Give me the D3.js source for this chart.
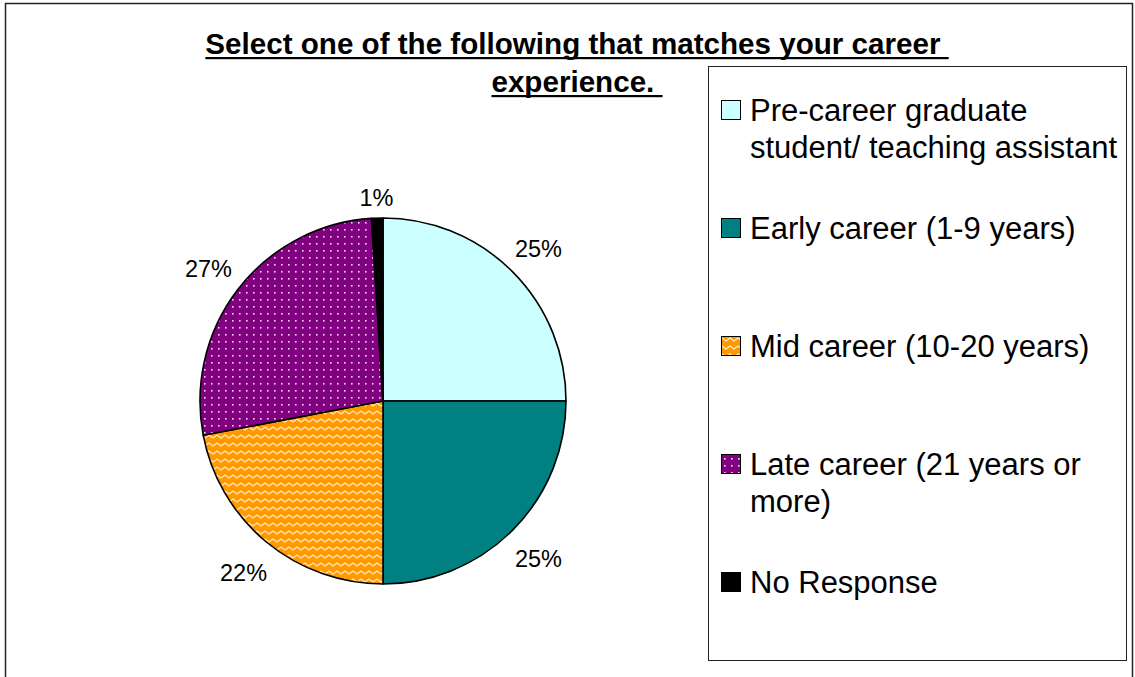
<!DOCTYPE html>
<html>
<head>
<meta charset="utf-8">
<script src="https://cdn.jsdelivr.net/npm/d3@7"></script>
<style>
  html, body { margin: 0; padding: 0; background: #fff; }
  svg { display: block; font-family: "Liberation Sans", Arial, sans-serif; }
</style>
</head>
<body>
<svg id="chart" width="1135" height="677"></svg>
<script>
// Survey answers: career stage of respondents
const categories = [
  "Pre-career graduate student/ teaching assistant",
  "Early career (1-9 years)",
  "Mid career (10-20 years)",
  "Late career (21 years or more)",
  "No Response"
];
const percents = [25, 25, 22, 27, 1];
const legendLines = [
  ["Pre-career graduate", "student/ teaching assistant"],
  ["Early career (1-9 years)"],
  ["Mid career (10-20 years)"],
  ["Late career (21 years or", "more)"],
  ["No Response"]
];
const titleLines = ["Select one of the following that matches your career ", "experience. "];

const fills = ["#CCFFFF", "#008080", "url(#zigzag)", "url(#dots)", "#000000"];

const svg = d3.select("#chart");

// Fill patterns
const defs = svg.append("defs");
const zz = defs.append("pattern").attr("id", "zigzag")
  .attr("patternUnits", "userSpaceOnUse").attr("width", 8).attr("height", 8);
zz.append("rect").attr("width", 8).attr("height", 8).attr("fill", "#FF9900");
zz.append("path").attr("d", "M-2,5 L2,2 L6,5 L10,2")
  .attr("fill", "none").attr("stroke", "#FFE9C8").attr("stroke-width", 1.3);

const dots = defs.append("pattern").attr("id", "dots")
  .attr("patternUnits", "userSpaceOnUse").attr("width", 7).attr("height", 7);
dots.append("rect").attr("width", 7).attr("height", 7).attr("fill", "#800080");
dots.append("rect").attr("x", 3).attr("y", 3).attr("width", 1.6).attr("height", 1.6).attr("fill", "#F0DDF0");

// Chart frame
svg.append("rect").attr("x", 5.5).attr("y", 3.5).attr("width", 1127).attr("height", 720)
  .attr("fill", "#fff").attr("stroke", "#222").attr("stroke-width", 1.5);

// Title (bold, underlined, two lines)
const titleX = 577;
const titleG = svg.append("g");
titleLines.forEach((line, i) => {
  const t = titleG.append("text")
    .attr("x", titleX).attr("y", 54 + i * 38)
    .attr("text-anchor", "middle")
    .style("white-space", "pre")
    .attr("font-size", 29.6).attr("font-weight", "bold").attr("fill", "#000")
    .text(line);
  const w = t.node().getComputedTextLength();
  titleG.append("rect").attr("x", titleX - w / 2).attr("y", 54 + i * 38 + 3)
    .attr("width", w).attr("height", 2.2).attr("fill", "#000");
});

// Pie
const cx = 383, cy = 401, R = 183;
const pie = d3.pie().sort(null).value(d => d);
const arcs = pie(percents);
const arc = d3.arc().innerRadius(0).outerRadius(R);

const pieG = svg.append("g").attr("transform", `translate(${cx},${cy})`);
pieG.selectAll("path.slice").data(arcs).join("path")
  .attr("class", "slice")
  .attr("d", arc)
  .attr("fill", (d, i) => fills[i])
  .attr("stroke", "#000").attr("stroke-width", 1.6).attr("stroke-linejoin", "round");

// Percentage labels placed just outside each slice
const labelFs = 23.5;
arcs.forEach((d, i) => {
  const a = (d.startAngle + d.endAngle) / 2;
  const t = pieG.append("text")
    .attr("font-size", labelFs).attr("fill", "#000")
    .attr("text-anchor", "middle").attr("dominant-baseline", "central")
    .text(percents[i] + "%");
  const w = t.node().getComputedTextLength();
  const h = labelFs * 0.75;
  const dist = R + 14 + Math.abs(Math.sin(a)) * w / 2 + Math.abs(Math.cos(a)) * h / 2;
  t.attr("x", Math.sin(a) * dist).attr("y", -Math.cos(a) * dist + 3);
});

// Legend
const legX = 708.5, legY = 66.5, legW = 418, legH = 594;
svg.append("rect").attr("x", legX).attr("y", legY).attr("width", legW).attr("height", legH)
  .attr("fill", "#fff").attr("stroke", "#222").attr("stroke-width", 1);

const legFs = 31, lineH = 37, firstY = 110, step = 118;
categories.forEach((c, i) => {
  const y0 = firstY + i * step;
  svg.append("rect").attr("x", 721.5).attr("y", y0 - 9.5).attr("width", 19).attr("height", 19)
    .attr("fill", fills[i]).attr("stroke", "#000").attr("stroke-width", 1);
  const t = svg.append("text").attr("font-size", legFs).attr("fill", "#000");
  legendLines[i].forEach((ln, j) => {
    t.append("tspan").attr("x", 750).attr("y", y0 + j * lineH)
      .attr("dominant-baseline", "central").text(ln);
  });
});
</script>
</body>
</html>
